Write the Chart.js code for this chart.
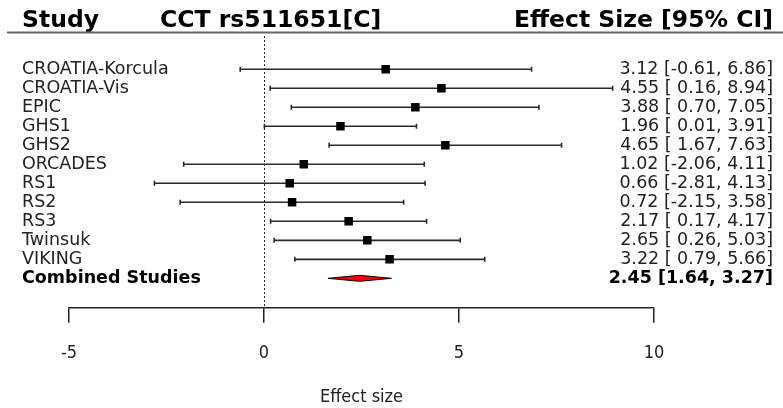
<!DOCTYPE html>
<html>
<head>
<meta charset="utf-8">
<script src="https://cdn.jsdelivr.net/npm/chart.js@4"></script>
<style>
  body { margin: 0; background: #fff; }
</style>
</head>
<body>
<canvas id="forest" width="783" height="408"></canvas>
<script>
// forest plot data
var studies = ["CROATIA-Korcula", "CROATIA-Vis", "EPIC", "GHS1", "GHS2", "ORCADES",
    "RS1", "RS2", "RS3", "Twinsuk", "VIKING"];
var effects = [3.12, 4.55, 3.88, 1.96, 4.65, 1.02, 0.66, 0.72, 2.17, 2.65, 3.22];
var lower = [-0.61, 0.16, 0.70, 0.01, 1.67, -2.06, -2.81, -2.15, 0.17, 0.26, 0.79];
var upper = [6.86, 8.94, 7.05, 3.91, 7.63, 4.11, 4.13, 3.58, 4.17, 5.03, 5.66];

var combinedLabel = "Combined Studies";
var combined = [2.45, 1.64, 3.27]; // estimate, lower, upper

var xTicks = [-5, 0, 5, 10];

var headers = ["Study", "CCT rs511651[C]", "Effect Size [95% CI]"];

var plain = "DejaVu Sans, sans-serif";
var narrow = "'DejaVu Sans Condensed', 'DejaVu Sans', sans-serif";

function ci(v) {
    var s = v.toFixed(2);
    return v < 0 ? s : " " + s;
}

var points = effects.map(function (e, i) { return { x: e, y: i }; });

var forestPlugin = {
    id: 'forest',
    beforeDatasetsDraw: function (chart) {
        var ctx = chart.ctx, xs = chart.scales.x, ys = chart.scales.y, area = chart.chartArea;
        ctx.save();
        // zero line
        ctx.strokeStyle = '#222';
        ctx.lineWidth = 1;
        ctx.setLineDash([2, 2]);
        ctx.beginPath();
        ctx.moveTo(Math.round(xs.getPixelForValue(0)) + 0.5, area.top);
        ctx.lineTo(Math.round(xs.getPixelForValue(0)) + 0.5, area.bottom);
        ctx.stroke();
        ctx.setLineDash([]);
        // whiskers
        ctx.strokeStyle = '#2a2a2a';
        ctx.lineWidth = 1.6;
        for (var i = 0; i < studies.length; i++) {
            var y = ys.getPixelForValue(i);
            var x0 = xs.getPixelForValue(lower[i]);
            var x1 = xs.getPixelForValue(upper[i]);
            ctx.beginPath();
            ctx.moveTo(x0, y); ctx.lineTo(x1, y);
            ctx.moveTo(x0, y - 2.5); ctx.lineTo(x0, y + 2.5);
            ctx.moveTo(x1, y - 2.5); ctx.lineTo(x1, y + 2.5);
            ctx.stroke();
        }
        ctx.restore();
    },
    afterDatasetsDraw: function (chart) {
        var ctx = chart.ctx, xs = chart.scales.x, ys = chart.scales.y;
        ctx.save();
        // combined diamond
        var yc = ys.getPixelForValue(studies.length);
        ctx.beginPath();
        ctx.moveTo(xs.getPixelForValue(combined[1]), yc);
        ctx.lineTo(xs.getPixelForValue(combined[0]), yc - 3);
        ctx.lineTo(xs.getPixelForValue(combined[2]), yc);
        ctx.lineTo(xs.getPixelForValue(combined[0]), yc + 3);
        ctx.closePath();
        ctx.fillStyle = '#ff0000';
        ctx.fill();
        ctx.strokeStyle = '#000';
        ctx.lineWidth = 1;
        ctx.stroke();

        // row labels
        ctx.fillStyle = '#222';
        ctx.textBaseline = 'middle';
        for (var i = 0; i < studies.length; i++) {
            var y = ys.getPixelForValue(i);
            ctx.font = '17.5px ' + plain;
            ctx.textAlign = 'left';
            ctx.fillText(studies[i], 22, y);
            ctx.textAlign = 'right';
            ctx.fillText(effects[i].toFixed(2) + " [" + ci(lower[i]) + ", " + upper[i].toFixed(2) + "]", 773, y);
        }
        ctx.fillStyle = '#000';
        ctx.font = 'bold 17.5px ' + plain;
        ctx.textAlign = 'left';
        ctx.fillText(combinedLabel, 22, yc);
        ctx.textAlign = 'right';
        ctx.fillText(combined[0].toFixed(2) + " [" + combined[1].toFixed(2) + ", " + combined[2].toFixed(2) + "]", 773, yc);

        // header
        ctx.font = 'bold 23.5px ' + plain;
        ctx.textBaseline = 'alphabetic';
        ctx.textAlign = 'left';
        ctx.fillText(headers[0], 22, 27);
        ctx.fillText(headers[1], 160, 27);
        ctx.textAlign = 'right';
        ctx.fillText(headers[2], 773, 27);
        ctx.strokeStyle = '#666';
        ctx.lineWidth = 2;
        ctx.beginPath();
        ctx.moveTo(7, 32.5); ctx.lineTo(783, 32.5);
        ctx.stroke();
        ctx.restore();
    }
};

new Chart(document.getElementById('forest'), {
    type: 'scatter',
    data: {
        datasets: [{
            data: points,
            pointStyle: 'rect',
            pointRadius: 6,
            pointHoverRadius: 6,
            backgroundColor: '#000',
            borderWidth: 0
        }]
    },
    options: {
        responsive: false,
        animation: false,
        events: [],
        layout: { padding: { left: 69, right: 129, top: 36, bottom: 0 } },
        plugins: {
            legend: { display: false },
            tooltip: { enabled: false }
        },
        scales: {
            x: {
                type: 'linear',
                min: -5,
                max: 10,
                afterBuildTicks: function (axis) {
                    axis.ticks = xTicks.map(function (v) { return { value: v }; });
                },
                ticks: {
                    padding: 20,
                    color: '#222',
                    font: { family: narrow, size: 18 }
                },
                grid: {
                    drawOnChartArea: false,
                    tickLength: 15,
                    color: '#222',
                    lineWidth: 1.5
                },
                border: { display: true, color: '#222', width: 1.5 },
                title: {
                    display: true,
                    text: 'Effect size',
                    color: '#222',
                    font: { family: narrow, size: 18 },
                    padding: { top: 2, bottom: 0 }
                }
            },
            y: {
                type: 'linear',
                reverse: true,
                min: -1.75,
                max: 12.55,
                display: false
            }
        }
    },
    plugins: [forestPlugin]
});
</script>
</body>
</html>
